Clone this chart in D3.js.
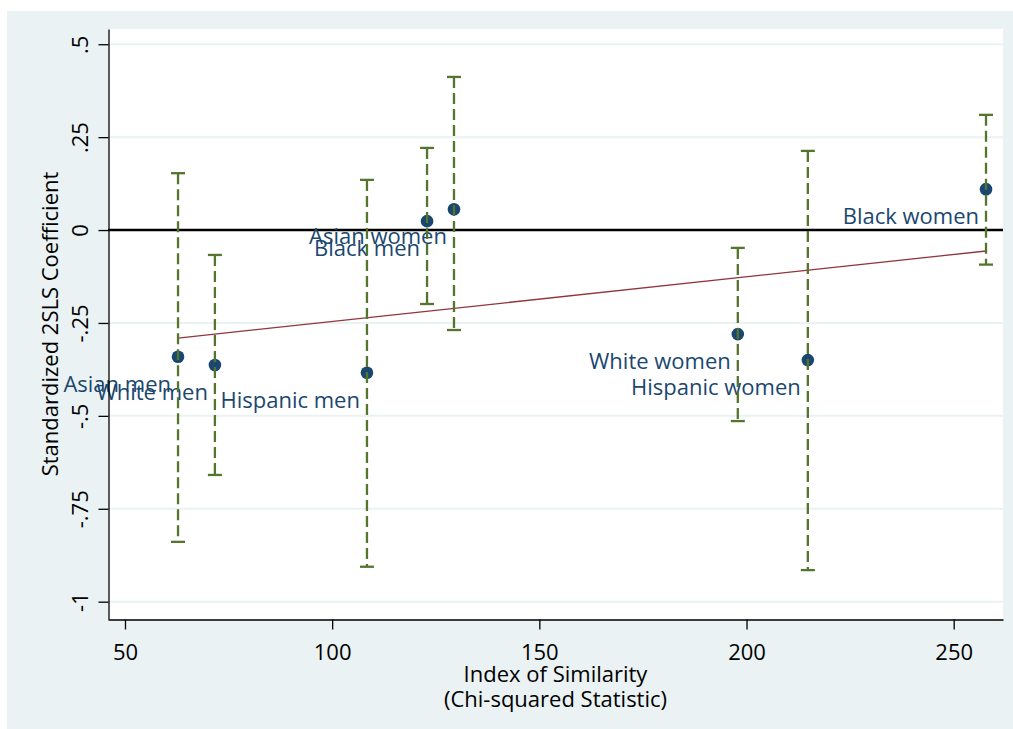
<!DOCTYPE html>
<html>
<head>
<meta charset="utf-8">
<script src="https://cdn.jsdelivr.net/npm/d3@7"></script>
<style>
  body { margin: 0; background: #ffffff; }
  text { font-family: "Open Sans", sans-serif; }
</style>
</head>
<body>
<div id="chart"></div>
<script>
// groups, ordered by the index of similarity
var groups = ["Asian men", "White men", "Hispanic men", "Black men",
              "Asian women", "White women", "Hispanic women", "Black women"];
var similarity = [62.8, 71.7, 108.4, 122.9, 129.4, 197.9, 214.8, 257.8];
var coef  = [-0.341, -0.363, -0.384, 0.024, 0.056, -0.280, -0.350, 0.110];
var ciLow  = [-0.839, -0.659, -0.906, -0.199, -0.269, -0.514, -0.915, -0.093];
var ciHigh = [0.153, -0.067, 0.135, 0.221, 0.412, -0.048, 0.213, 0.310];

var xTicks = [50, 100, 150, 200, 250];
var yTicks = [0.5, 0.25, 0, -0.25, -0.5, -0.75, -1];
var yTickLabels = [".5", ".25", "0", "-.25", "-.5", "-.75", "-1"];

function init() {
    var w = 1013, h = 729;
    var left = 108, right = 1003, top = 29, bottom = 619;

    var navy = "#1a476f", green = "#55752f", maroon = "#90353b", bg = "#eaf2f3";

    var svg = d3.select("#chart").append("svg")
        .attr("width", w)
        .attr("height", h);

    // outer graph region
    svg.append("rect")
        .attr("x", 7).attr("y", 11)
        .attr("width", w - 7).attr("height", h - 11)
        .attr("fill", bg);

    // plot region
    svg.append("rect")
        .attr("x", left).attr("y", top)
        .attr("width", right - left).attr("height", bottom - top)
        .attr("fill", "#ffffff");

    var x = d3.scaleLinear().domain([45.9, 261.9]).range([left, right]);
    var y = d3.scaleLinear().domain([-1.0466, 0.541]).range([bottom, top]);

    // horizontal grid lines
    svg.append("g").selectAll("line")
        .data(yTicks)
        .enter().append("line")
        .attr("x1", left).attr("x2", right)
        .attr("y1", function(d) { return y(d); })
        .attr("y2", function(d) { return y(d); })
        .attr("stroke", bg)
        .attr("stroke-width", 2);

    // reference line at zero
    svg.append("line")
        .attr("x1", left).attr("x2", right)
        .attr("y1", y(0)).attr("y2", y(0))
        .attr("stroke", "#000")
        .attr("stroke-width", 2.4);

    var data = groups.map(function(g, i) {
        return {name: g, x: similarity[i], y: coef[i], lo: ciLow[i], hi: ciHigh[i]};
    });

    // points and labels
    svg.append("g").selectAll("circle")
        .data(data)
        .enter().append("circle")
        .attr("cx", function(d) { return x(d.x); })
        .attr("cy", function(d) { return y(d.y); })
        .attr("r", 6.3)
        .attr("fill", navy);

    svg.append("g").selectAll("text")
        .data(data)
        .enter().append("text")
        .attr("x", function(d) { return x(d.x) - 7; })
        .attr("y", function(d) { return y(d.y) + 35; })
        .attr("text-anchor", "end")
        .attr("font-size", 22)
        .attr("fill", navy)
        .text(function(d) { return d.name; });

    // least squares fit of coefficient on similarity
    var mx = d3.mean(similarity), my = d3.mean(coef);
    var sxy = d3.sum(data, function(d) { return (d.x - mx) * (d.y - my); });
    var sxx = d3.sum(data, function(d) { return (d.x - mx) * (d.x - mx); });
    var slope = sxy / sxx, icpt = my - slope * mx;
    var xr = d3.extent(similarity);

    svg.append("line")
        .attr("x1", x(xr[0])).attr("y1", y(icpt + slope * xr[0]))
        .attr("x2", x(xr[1])).attr("y2", y(icpt + slope * xr[1]))
        .attr("stroke", maroon)
        .attr("stroke-width", 1.3);

    // confidence intervals
    var ci = svg.append("g").selectAll("g")
        .data(data)
        .enter().append("g")
        .attr("stroke", green)
        .attr("stroke-width", 2.3);

    ci.append("line")
        .attr("x1", function(d) { return x(d.x); })
        .attr("x2", function(d) { return x(d.x); })
        .attr("y1", function(d) { return y(d.hi); })
        .attr("y2", function(d) { return y(d.lo); })
        .attr("stroke-dasharray", "11,5");

    ci.append("line")
        .attr("x1", function(d) { return x(d.x) - 7; })
        .attr("x2", function(d) { return x(d.x) + 7; })
        .attr("y1", function(d) { return y(d.hi); })
        .attr("y2", function(d) { return y(d.hi); });

    ci.append("line")
        .attr("x1", function(d) { return x(d.x) - 7; })
        .attr("x2", function(d) { return x(d.x) + 7; })
        .attr("y1", function(d) { return y(d.lo); })
        .attr("y2", function(d) { return y(d.lo); });

    // axes
    var yAxis = d3.axisLeft(y)
        .tickValues(yTicks)
        .tickSize(10)
        .tickSizeOuter(0)
        .tickFormat(function(d, i) { return yTickLabels[i]; });

    var gy = svg.append("g")
        .attr("transform", "translate(" + (left + 0.5) + ",0)")
        .call(yAxis);
    gy.select(".domain").attr("stroke", "#000").attr("stroke-width", 1.3);
    gy.selectAll(".tick line").attr("stroke", "#000").attr("stroke-width", 1.3);
    gy.selectAll(".tick text")
        .attr("transform", "rotate(-90)")
        .attr("x", 0).attr("y", -21).attr("dy", 0)
        .attr("text-anchor", "middle")
        .attr("font-size", 22)
        .attr("font-family", "Open Sans")
        .attr("fill", "#000");

    var xAxis = d3.axisBottom(x)
        .tickValues(xTicks)
        .tickSize(10)
        .tickSizeOuter(0)
        .tickFormat(d3.format("d"));

    var gx = svg.append("g")
        .attr("transform", "translate(0," + (bottom + 0.5) + ")")
        .call(xAxis);
    gx.select(".domain").attr("stroke", "#000").attr("stroke-width", 1.3);
    gx.selectAll(".tick line").attr("stroke", "#000").attr("stroke-width", 1.3);
    gx.selectAll(".tick text")
        .attr("y", 40).attr("dy", 0)
        .attr("font-size", 22)
        .attr("font-family", "Open Sans")
        .attr("fill", "#000");

    // axis titles
    svg.append("text")
        .attr("transform", "translate(58," + ((top + bottom) / 2) + ") rotate(-90)")
        .attr("text-anchor", "middle")
        .attr("font-size", 22)
        .text("Standardized 2SLS Coefficient");

    svg.append("text")
        .attr("x", (left + right) / 2).attr("y", 682)
        .attr("text-anchor", "middle")
        .attr("font-size", 22)
        .text("Index of Similarity");

    svg.append("text")
        .attr("x", (left + right) / 2).attr("y", 707)
        .attr("text-anchor", "middle")
        .attr("font-size", 22)
        .text("(Chi-squared Statistic)");
}

window.onload = init;
</script>
</body>
</html>
